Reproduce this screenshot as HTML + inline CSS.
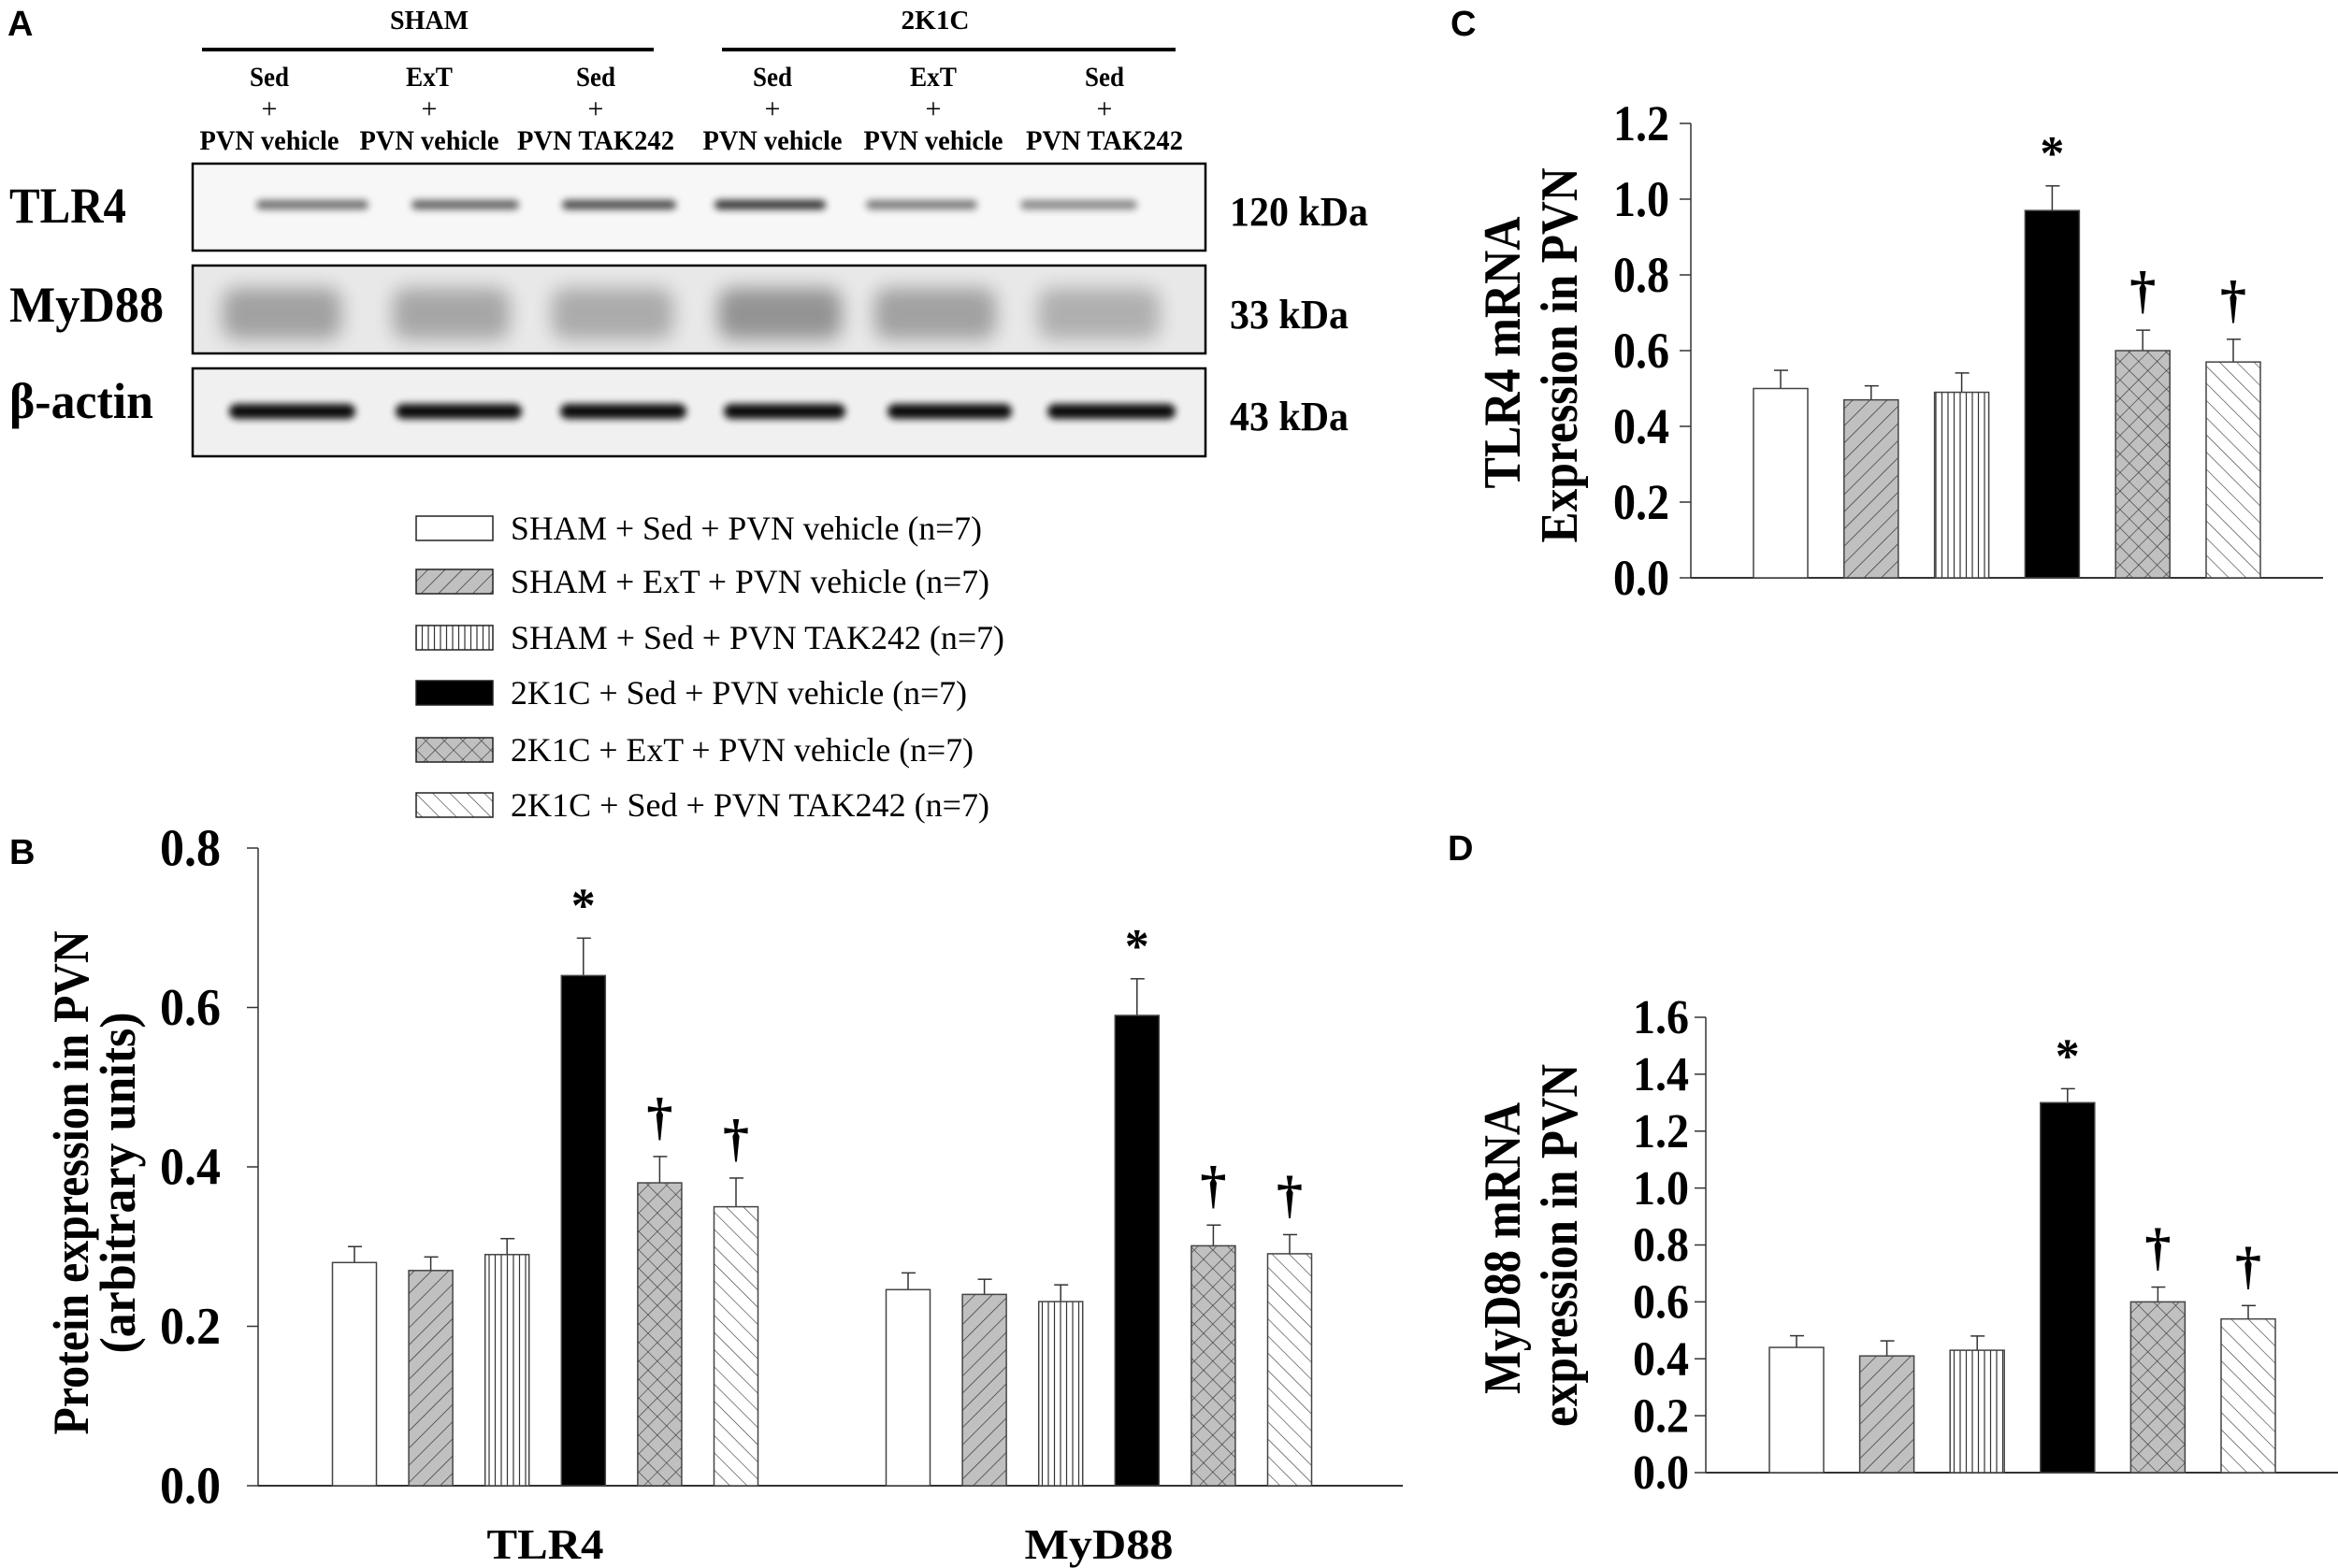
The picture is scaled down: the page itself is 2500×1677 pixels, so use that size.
<!DOCTYPE html>
<html><head><meta charset="utf-8"><style>
html,body{margin:0;padding:0;background:#fff;}
svg{display:block;}
text{font-family:"Liberation Serif",serif;}
.sans{font-family:"Liberation Sans",sans-serif;font-weight:bold;}
.b{font-weight:bold;}
</style></head><body>
<svg id="fig" width="2500" height="1677" viewBox="0 0 2500 1677" xmlns="http://www.w3.org/2000/svg">
<defs>
<pattern id="pDiag" patternUnits="userSpaceOnUse" width="13" height="13" patternTransform="rotate(45)">
<rect width="13" height="13" fill="#c0c0c0"/><line x1="0" y1="0" x2="0" y2="13" stroke="#333" stroke-width="1.4"/></pattern>
<pattern id="pVert" patternUnits="userSpaceOnUse" width="6.5" height="10">
<rect width="6.5" height="10" fill="#fff"/><line x1="3" y1="0" x2="3" y2="10" stroke="#333" stroke-width="1.2"/></pattern>
<pattern id="pCross" patternUnits="userSpaceOnUse" width="14" height="14" patternTransform="rotate(45)">
<rect width="14" height="14" fill="#c0c0c0"/><line x1="0" y1="0" x2="0" y2="14" stroke="#333" stroke-width="1.2"/><line x1="0" y1="0" x2="14" y2="0" stroke="#333" stroke-width="1.2"/></pattern>
<pattern id="pBack" patternUnits="userSpaceOnUse" width="13" height="13" patternTransform="rotate(-45)">
<rect width="13" height="13" fill="#fff"/><line x1="0" y1="0" x2="0" y2="13" stroke="#333" stroke-width="1.2"/></pattern>
<filter id="blur4" x="-20%" y="-200%" width="140%" height="500%"><feGaussianBlur stdDeviation="4"/></filter>
<filter id="blur10" x="-20%" y="-100%" width="140%" height="300%"><feGaussianBlur stdDeviation="10"/></filter>
</defs>

<!-- Panel A -->
<text class="sans" x="8" y="38" font-size="38">A</text>
<text class="b" x="459" y="31" font-size="28" text-anchor="middle" textLength="84" lengthAdjust="spacingAndGlyphs">SHAM</text>
<text class="b" x="1000" y="31" font-size="28" text-anchor="middle" textLength="73" lengthAdjust="spacingAndGlyphs">2K1C</text>
<line x1="216" y1="53" x2="699" y2="53" stroke="#000" stroke-width="4"/>
<line x1="772" y1="53" x2="1257" y2="53" stroke="#000" stroke-width="4"/>
<g id="colHeads"></g>

<rect x="206" y="175" width="1083" height="93" fill="#f7f7f7" stroke="#000" stroke-width="2.5"/>
<rect x="206" y="284" width="1083" height="94" fill="#e8e8e8" stroke="#000" stroke-width="2.5"/>
<rect x="206" y="394" width="1083" height="94" fill="#f0f0f0" stroke="#000" stroke-width="2.5"/>
<g id="bands"></g>

<text class="b" x="10" y="238" font-size="54" textLength="125" lengthAdjust="spacingAndGlyphs">TLR4</text>
<text class="b" x="10" y="344" font-size="54" textLength="165" lengthAdjust="spacingAndGlyphs">MyD88</text>
<text class="b" x="10" y="447" font-size="54" textLength="154" lengthAdjust="spacingAndGlyphs">β-actin</text>
<text class="b" x="1315" y="241" font-size="44" textLength="148" lengthAdjust="spacingAndGlyphs">120 kDa</text>
<text class="b" x="1315" y="351" font-size="44" textLength="127" lengthAdjust="spacingAndGlyphs">33 kDa</text>
<text class="b" x="1315" y="460" font-size="44" textLength="127" lengthAdjust="spacingAndGlyphs">43 kDa</text>

<g id="legend"></g>

<!-- Panel labels -->
<text class="sans" x="10" y="924" font-size="38">B</text>
<text class="sans" x="1551" y="38" font-size="38">C</text>
<text class="sans" x="1548" y="920" font-size="38">D</text>

<!-- Y titles -->
<text class="b" font-size="54" text-anchor="middle" textLength="539" lengthAdjust="spacingAndGlyphs" transform="translate(94,1265) rotate(-90)">Protein expression in PVN</text>
<text class="b" font-size="54" text-anchor="middle" textLength="365" lengthAdjust="spacingAndGlyphs" transform="translate(144,1265) rotate(-90)">(arbitrary units)</text>
<text class="b" font-size="56" text-anchor="middle" textLength="291" lengthAdjust="spacingAndGlyphs" transform="translate(1625,377) rotate(-90)">TLR4  mRNA</text>
<text class="b" font-size="56" text-anchor="middle" textLength="401" lengthAdjust="spacingAndGlyphs" transform="translate(1686,380) rotate(-90)">Expression in PVN</text>
<text class="b" font-size="56" text-anchor="middle" textLength="312" lengthAdjust="spacingAndGlyphs" transform="translate(1625,1335) rotate(-90)">MyD88 mRNA</text>
<text class="b" font-size="56" text-anchor="middle" textLength="388" lengthAdjust="spacingAndGlyphs" transform="translate(1686,1332) rotate(-90)">expression in PVN</text>

<g id="chartB"></g>
<g id="chartC"></g>
<g id="chartD"></g>
</svg>
<script>
// ---- data ----
const groupsB = ['TLR4', 'MyD88'];
const bTLR4 = [0.28, 0.27, 0.29, 0.64, 0.38, 0.35];
const bTLR4Err = [0.02, 0.017, 0.02, 0.047, 0.033, 0.036];
const bMyD88 = [0.246, 0.24, 0.231, 0.59, 0.301, 0.291];
const bMyD88Err = [0.021, 0.019, 0.021, 0.046, 0.026, 0.024];
const cVals = [0.50, 0.47, 0.49, 0.97, 0.60, 0.57];
const cErr = [0.048, 0.037, 0.051, 0.065, 0.054, 0.06];
const dVals = [0.44, 0.41, 0.43, 1.30, 0.60, 0.54];
const dErr = [0.041, 0.053, 0.05, 0.049, 0.052, 0.047];
const sigMarks = ['', '', '', '*', '†', '†'];
const ticksB = ['0.0', '0.2', '0.4', '0.6', '0.8'];
const ticksC = ['0.0', '0.2', '0.4', '0.6', '0.8', '1.0', '1.2'];
const ticksD = ['0.0', '0.2', '0.4', '0.6', '0.8', '1.0', '1.2', '1.4', '1.6'];
const legendLabels = ['SHAM + Sed + PVN vehicle (n=7)', 'SHAM + ExT + PVN vehicle (n=7)', 'SHAM + Sed + PVN TAK242 (n=7)', '2K1C + Sed + PVN vehicle (n=7)', '2K1C + ExT + PVN vehicle (n=7)', '2K1C + Sed + PVN TAK242 (n=7)'];
const laneTop = ['Sed', 'ExT', 'Sed', 'Sed', 'ExT', 'Sed'];
const laneBottom = ['PVN vehicle', 'PVN vehicle', 'PVN TAK242', 'PVN vehicle', 'PVN vehicle', 'PVN TAK242'];

// ---- styling (not data) ----
const fills = ['#fff', 'url(#pDiag)', 'url(#pVert)', '#000', 'url(#pCross)', 'url(#pBack)'];
const NS = 'http://www.w3.org/2000/svg';
function mk(tag, attrs, parent) {
  const e = document.createElementNS(NS, tag);
  for (const k in attrs) e.setAttribute(k, attrs[k]);
  parent.appendChild(e);
  return e;
}

// lane headers
const colHeads = document.getElementById('colHeads');
const laneX = [288, 459, 637, 826, 998, 1181];
laneTop.forEach((t, i) => {
  let e = mk('text', {x: laneX[i], y: 92, 'font-size': 30, 'font-weight': 'bold', 'text-anchor': 'middle', textLength: t === 'ExT' ? 50 : 42, lengthAdjust: 'spacingAndGlyphs'}, colHeads);
  e.textContent = t;
  
  
  e = mk('text', {x: laneX[i], y: 126, 'font-size': 30, 'text-anchor': 'middle'}, colHeads);
  e.textContent = '+';
  
  
  e = mk('text', {x: laneX[i], y: 160, 'font-size': 30, 'font-weight': 'bold', 'text-anchor': 'middle', textLength: laneBottom[i].indexOf('TAK') >= 0 ? 168 : 149, lengthAdjust: 'spacingAndGlyphs'}, colHeads);
  e.textContent = laneBottom[i];
  
  
});

// blot bands
const bands = document.getElementById('bands');
const tlrB = [[274,394,0.55],[440,555,0.6],[601,723,0.7],[764,883,0.8],[926,1045,0.5],[1091,1216,0.45]];
tlrB.forEach(b => {
  const e = mk('rect', {x: b[0], y: 214, width: b[1]-b[0], height: 10, rx: 5, fill: '#000', opacity: b[2], filter: 'url(#blur4)'}, bands);
  
  
});
const myB = [[238,365,0.3],[420,545,0.28],[590,720,0.26],[768,900,0.36],[935,1065,0.3],[1110,1240,0.24]];
myB.forEach(b => {
  const e = mk('rect', {x: b[0], y: 308, width: b[1]-b[0], height: 55, rx: 15, fill: '#000', opacity: b[2], filter: 'url(#blur10)'}, bands);
  
  
});
const acB = [[245,380],[423,558],[599,734],[774,904],[949,1082],[1120,1257]];
acB.forEach(b => {
  const e = mk('rect', {x: b[0], y: 432, width: b[1]-b[0], height: 16, rx: 8, fill: '#000', opacity: 0.95, filter: 'url(#blur4)'}, bands);
  
  
});

// legend
const legend = document.getElementById('legend');
const legY = [565, 622, 682, 741, 802, 861];
const legW = [504, 512, 528, 488, 495, 512];
legendLabels.forEach((t, i) => {
  let r = mk('rect', {x: 445, y: legY[i]-13, width: 82, height: 26, fill: fills[i], stroke: '#222', 'stroke-width': 1.5}, legend);
  
  
  let e = mk('text', {x: 546, y: legY[i]+12, 'font-size': 36, textLength: legW[i], lengthAdjust: 'spacingAndGlyphs'}, legend);
  e.textContent = t;
  
  
});

// generic bar chart
function drawChart(g, cfg, series, errs, ticks) {
  const vmax = parseFloat(ticks[ticks.length-1]);
  const y = v => cfg.y0 - (v / vmax) * (cfg.y0 - cfg.yTop);
  let ax = mk('line', {x1: cfg.ax, y1: cfg.yTop, x2: cfg.ax, y2: cfg.y0, stroke: '#333', 'stroke-width': 1.5}, g);
  
  
  ax = mk('line', {x1: cfg.ax, y1: cfg.y0, x2: cfg.axEnd, y2: cfg.y0, stroke: '#333', 'stroke-width': 2}, g);
  
  
  ticks.forEach(t => {
    const ty = y(parseFloat(t));
    const l = mk('line', {x1: cfg.ax - 12, y1: ty, x2: cfg.ax, y2: ty, stroke: '#333', 'stroke-width': 1.5}, g);
    
    
    const e = mk('text', {x: cfg.tickX, y: ty + cfg.tickFs*0.33, 'font-size': cfg.tickFs, 'font-weight': 'bold', 'text-anchor': 'end', textLength: cfg.tickW, lengthAdjust: 'spacingAndGlyphs'}, g);
    e.textContent = t;
    
    
  });
  series.forEach((vals, gi) => {
    vals.forEach((v, i) => {
      const cx = cfg.c0 + gi*cfg.groupStep + i*cfg.step;
      const top = y(v), et = y(v + errs[gi][i]);
      const el = mk('line', {x1: cx, y1: top, x2: cx, y2: et, stroke: '#333', 'stroke-width': 1.5}, g);
      
      
      const cap = mk('line', {x1: cx - 7, y1: et, x2: cx + 8, y2: et, stroke: '#333', 'stroke-width': 1.5}, g);
      
      
      const r = mk('rect', {x: cx - cfg.bw/2, y: top, width: cfg.bw, height: cfg.y0 - top, fill: fills[i], stroke: '#444', 'stroke-width': 1.5}, g);
      
      
      const m = sigMarks[i];
      if (m) {
        const s = mk('text', {x: cx, y: m === '*' ? et - 18 : et - 24, 'font-size': m === '*' ? 52 : 56, 'font-weight': 'bold', 'text-anchor': 'middle'}, g);
        s.textContent = m;
        
        
      }
    });
  });
  if (cfg.groups) {
    cfg.groups.forEach((name, gi) => {
      const cx = cfg.c0 + gi*cfg.groupStep + 2.5*cfg.step;
      const e = mk('text', {x: cx, y: cfg.y0 + 78, 'font-size': 46, 'font-weight': 'bold', 'text-anchor': 'middle', textLength: name === 'TLR4' ? 125 : 159, lengthAdjust: 'spacingAndGlyphs'}, g);
      e.textContent = name;
      
      
    });
  }
}

drawChart(document.getElementById('chartB'),
  {ax: 276, axEnd: 1500, y0: 1589, yTop: 907, c0: 379, step: 81.6, groupStep: 592, bw: 47, tickX: 236, tickFs: 56, tickW: 65, groups: groupsB},
  [bTLR4, bMyD88], [bTLR4Err, bMyD88Err], ticksB);
drawChart(document.getElementById('chartC'),
  {ax: 1808, axEnd: 2484, y0: 618, yTop: 132, c0: 1904, step: 96.8, groupStep: 0, bw: 58, tickX: 1785, tickFs: 54, tickW: 60},
  [cVals], [cErr], ticksC);
drawChart(document.getElementById('chartD'),
  {ax: 1824, axEnd: 2500, y0: 1575, yTop: 1088, c0: 1921, step: 96.6, groupStep: 0, bw: 58, tickX: 1806, tickFs: 52, tickW: 60},
  [dVals], [dErr], ticksD);
</script>
</body></html>
